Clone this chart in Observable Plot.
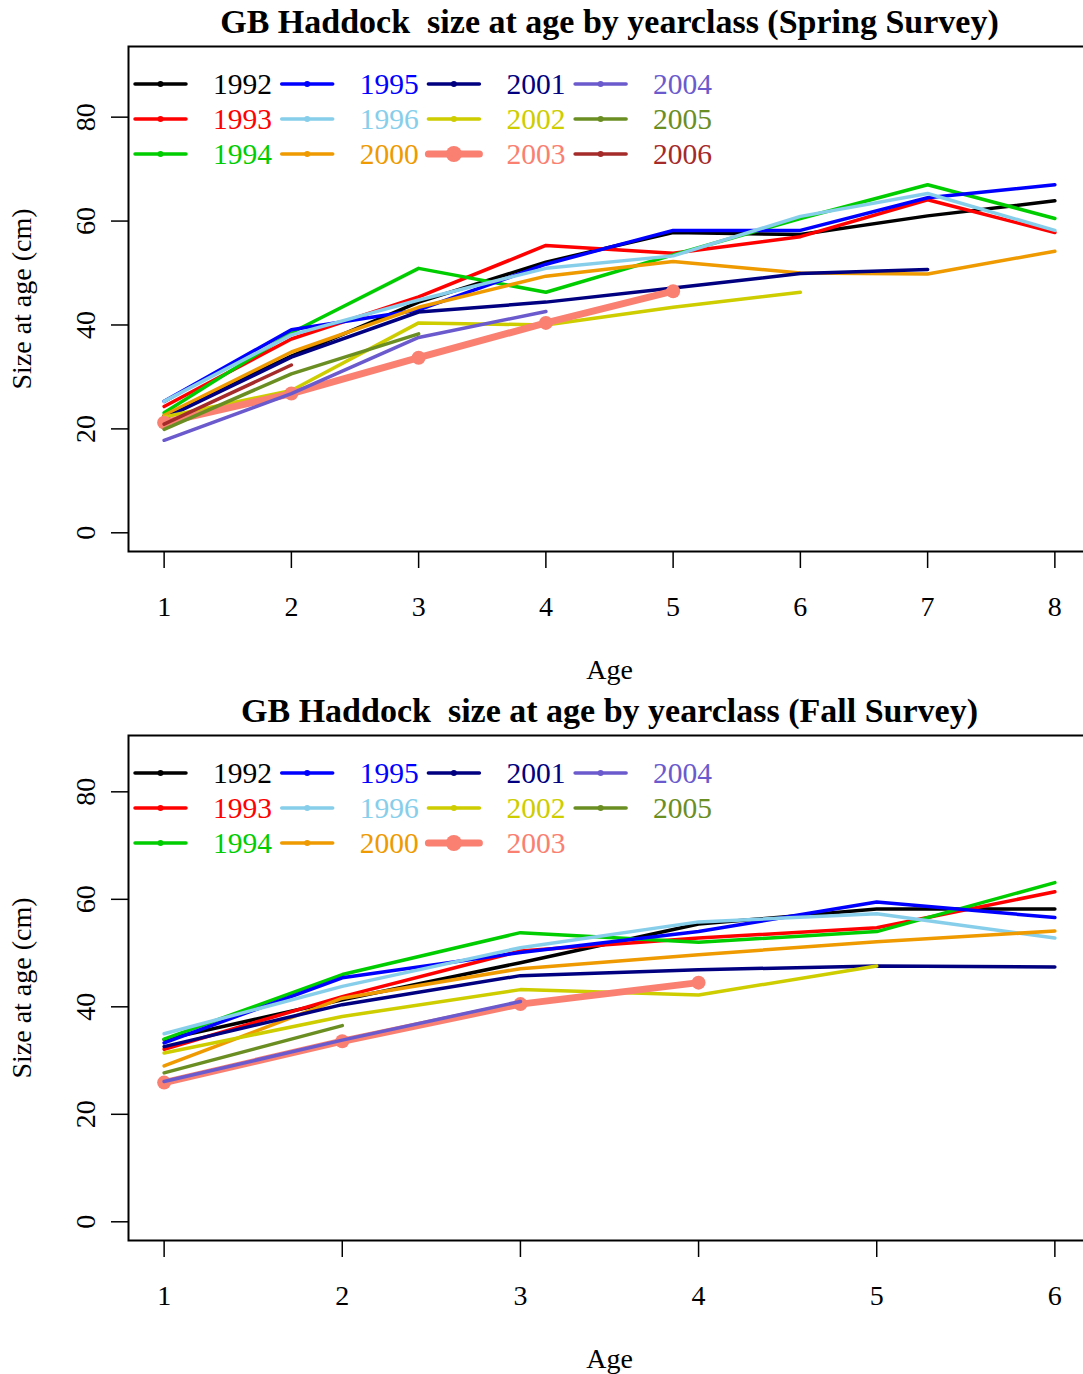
<!DOCTYPE html>
<html>
<head>
<meta charset="utf-8">
<script src="https://cdn.jsdelivr.net/npm/d3@7"></script>
<script src="https://cdn.jsdelivr.net/npm/@observablehq/plot@0.6"></script>
<style>
  html, body { margin: 0; padding: 0; overflow: hidden; background: #fff; }
  .panel { position: relative; width: 1100px; }
  .panel svg.legend { position: absolute; left: 0; top: 0; pointer-events: none; }
</style>
</head>
<body>
<div id="spring" class="panel"></div>
<div id="fall" class="panel"></div>
<script>
const FONT = '"Liberation Serif", "Times New Roman", Times, serif';

// Yearclasses and their colours (legend order)
const yearclasses = [1992, 1993, 1994, 1995, 1996, 2000, 2001, 2002, 2003, 2004, 2005, 2006];
const yearColors = ["#000000", "#FF0000", "#00CD00", "#0000FF", "#87CEEB", "#EE9A00",
                    "#000080", "#CDCD00", "#FA8072", "#6A5ACD", "#6B8E23", "#A52A2A"];
const highlightYear = 2003;

const springAges = [1, 2, 3, 4, 5, 6, 7, 8];
const fallAges = [1, 2, 3, 4, 5, 6];
const sizeTicks = [0, 20, 40, 60, 80];

// Spring survey: mean length (cm) at age 1, 2, 3, ... for each yearclass
const springSizes = [
  [22.5, 34.0, 44.4, 52.1, 57.8, 57.4, 61.0, 63.9], // 1992
  [24.3, 37.3, 45.4, 55.3, 53.8, 57.0, 64.1, 57.8], // 1993
  [23.1, 38.5, 50.9, 46.3, 53.5, 60.5, 67.0, 60.5], // 1994
  [25.3, 39.1, 42.9, 51.7, 58.2, 58.2, 64.5, 67.0], // 1995
  [25.3, 38.1, 44.8, 50.9, 53.3, 60.9, 65.3, 58.2], // 1996
  [22.6, 34.8, 43.4, 49.4, 52.2, 50.0, 49.8, 54.2], // 2000
  [22.0, 33.8, 42.5, 44.4, 47.1, 49.9, 50.7],       // 2001
  [22.3, 27.4, 40.4, 40.0, 43.4, 46.3],             // 2002
  [21.2, 26.8, 33.7, 40.4, 46.5],                   // 2003
  [17.8, 26.8, 37.6, 42.6],                         // 2004
  [19.9, 30.6, 38.3],                               // 2005
  [20.9, 32.3]                                      // 2006
];

// Fall survey: mean length (cm) at age 1, 2, 3, ... (no 2006 yearclass)
const fallYearclasses = yearclasses.slice(0, 11);
const fallSizes = [
  [33.9, 41.3, 48.2, 55.4, 58.2, 58.2], // 1992
  [32.1, 41.9, 50.4, 52.8, 54.7, 61.4], // 1993
  [34.0, 46.0, 53.8, 52.0, 54.0, 63.1], // 1994
  [33.3, 45.4, 50.1, 54.0, 59.5, 56.6], // 1995
  [35.0, 43.8, 51.0, 55.8, 57.3, 52.8], // 1996
  [29.0, 41.6, 47.1, 49.7, 52.1, 54.1], // 2000
  [32.6, 40.4, 45.8, 46.9, 47.6, 47.4], // 2001
  [31.4, 38.2, 43.2, 42.2, 47.6],       // 2002
  [25.9, 33.6, 40.5, 44.5],             // 2003
  [26.1, 33.8, 41.0],                   // 2004
  [27.7, 36.5]                          // 2005
];

function drawPanel({target, title, ages, years, sizes, xDomain, yDomain, height, marginTop, marginBottom}) {
  const width = 1100;
  const colorOf = y => yearColors[yearclasses.indexOf(y)];

  // one line per yearclass, drawn in yearclass order
  const series = years.map((year, i) => ({
    year,
    rows: sizes[i].map((size, k) => ({year, age: ages[k], size}))
  }));

  const lineMarks = series.flatMap(({year, rows}) => {
    const hl = year === highlightYear;
    const marks = [Plot.line(rows, {x: "age", y: "size", stroke: colorOf(year),
                                    strokeWidth: hl ? 7 : 3.5, strokeLinecap: "round", strokeLinejoin: "round"})];
    if (hl) marks.push(Plot.dot(rows, {x: "age", y: "size", r: 7, fill: colorOf(year), stroke: "none"}));
    return marks;
  });

  const chart = Plot.plot({
    width, height,
    marginLeft: 128, marginRight: 10, marginTop, marginBottom,
    style: {fontFamily: FONT, fontSize: "28px", background: "#fff", color: "#000"},
    x: {domain: xDomain},
    y: {domain: yDomain},
    marks: [
      ...lineMarks,
      Plot.frame({stroke: "#000", strokeWidth: 2}),
      Plot.axisX({ticks: ages, tickSize: 17, tickPadding: 28, tickFormat: d => String(d),
                  fontSize: 28, strokeWidth: 1.5, label: null}),
      Plot.axisY({ticks: sizeTicks, tickSize: 17, tickFormat: () => "", strokeWidth: 1.5, label: null}),
      Plot.text(sizeTicks, {y: d => d, text: d => String(d), frameAnchor: "left", dx: -42,
                            rotate: -90, fontSize: 28, textAnchor: "middle", lineAnchor: "middle"}),
      Plot.text(["Size at age (cm)"], {frameAnchor: "left", dx: -106, rotate: -90, fontSize: 28,
                                       textAnchor: "middle", lineAnchor: "middle"}),
      Plot.text(["Age"], {frameAnchor: "bottom", dy: 119, fontSize: 28, lineAnchor: "middle"}),
      Plot.text([title], {frameAnchor: "top", dy: -24, fontSize: 34, fontWeight: "bold", lineAnchor: "middle"})
    ]
  });

  const el = document.getElementById(target);
  el.appendChild(chart);

  // legend: 3 rows per column, lines with a point marker, coloured labels
  const colStep = 146.7, rowStep = 35;
  const legend = d3.select(el).append("svg")
    .attr("class", "legend")
    .attr("width", width)
    .attr("height", marginTop + 160)
    .style("font-family", FONT);
  const item = legend.selectAll("g").data(years).join("g")
    .attr("transform", (d, i) => `translate(${135 + Math.floor(i / 3) * colStep},${marginTop + 38 + (i % 3) * rowStep})`);
  item.append("line")
    .attr("x1", 0).attr("x2", 51).attr("y1", 0).attr("y2", 0)
    .attr("stroke", d => colorOf(d))
    .attr("stroke-width", d => d === highlightYear ? 7 : 3.5)
    .attr("stroke-linecap", "round");
  item.append("circle")
    .attr("cx", 25.5).attr("cy", 0)
    .attr("r", d => d === highlightYear ? 8 : 3)
    .attr("fill", d => colorOf(d));
  item.append("text")
    .attr("x", 78).attr("y", 0).attr("dy", "0.35em")
    .attr("font-size", 29.5)
    .attr("fill", d => colorOf(d))
    .text(d => String(d));
}

drawPanel({
  target: "spring",
  title: "GB Haddock  size at age by yearclass (Spring Survey)",
  ages: springAges, years: yearclasses, sizes: springSizes,
  xDomain: [0.72, 8.28], yDomain: [-3.6, 93.6],
  height: 690, marginTop: 46, marginBottom: 139
});

drawPanel({
  target: "fall",
  title: "GB Haddock  size at age by yearclass (Fall Survey)",
  ages: fallAges, years: fallYearclasses, sizes: fallSizes,
  xDomain: [0.8, 6.2], yDomain: [-3.48, 90.48],
  height: 684, marginTop: 45, marginBottom: 134
});
</script>
</body>
</html>
